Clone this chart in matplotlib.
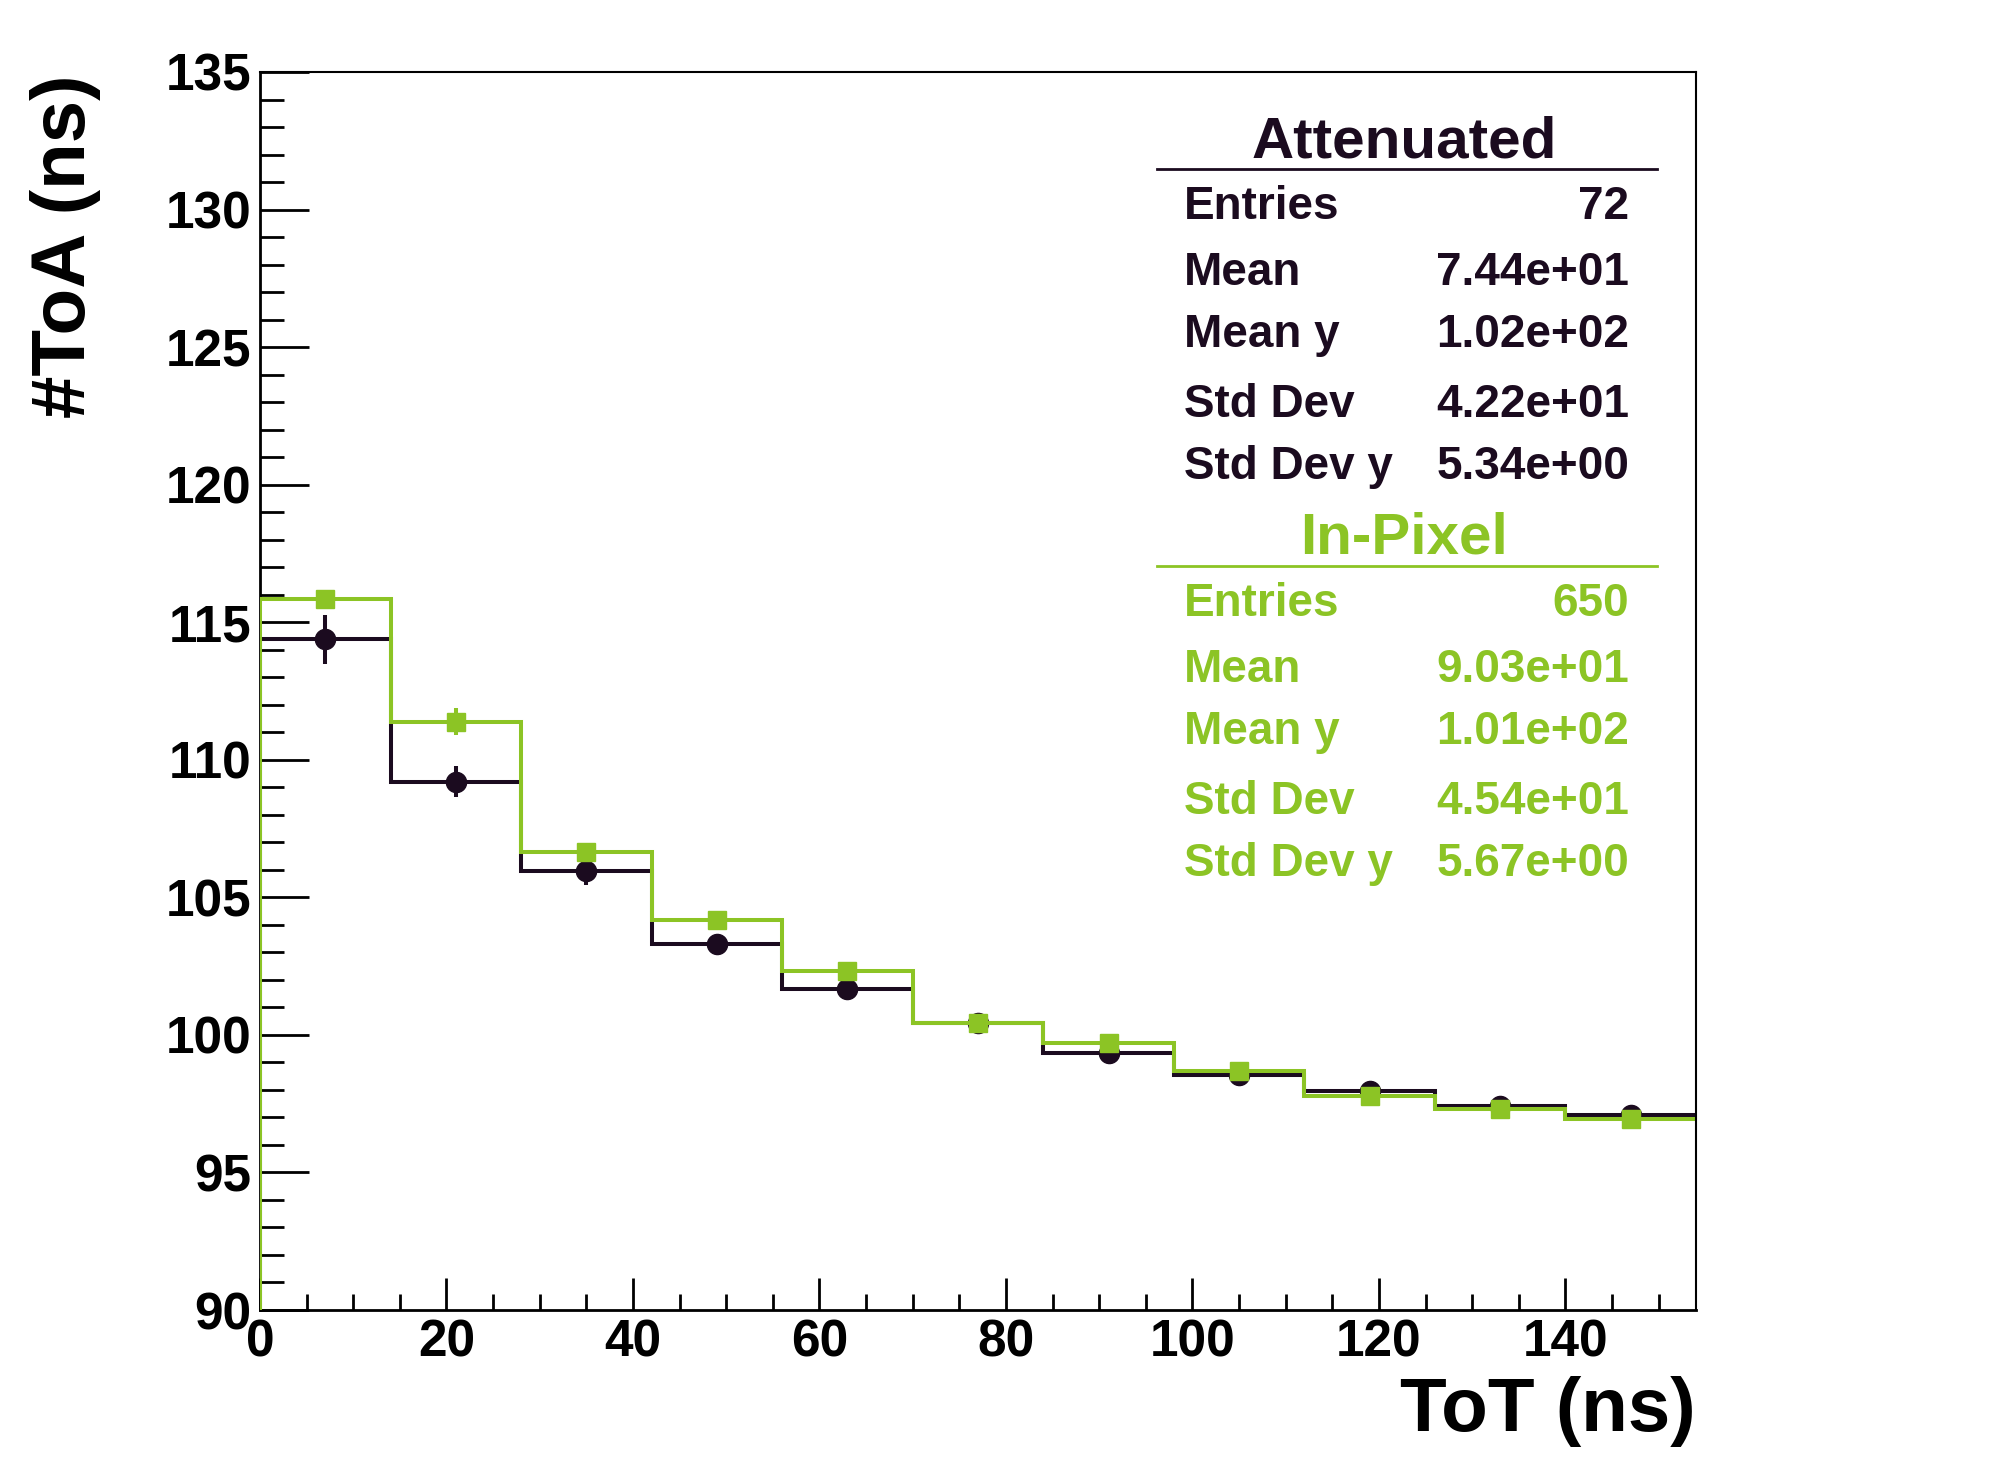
import numpy as np
import matplotlib
matplotlib.use('Agg')
import matplotlib.pyplot as plt

plt.rcParams['font.family'] = ['Liberation Sans', 'DejaVu Sans']
plt.rcParams['font.weight'] = 'bold'

# ToT bins (ns)
bin_edges = [0, 14, 28, 42, 56, 70, 84, 98, 112, 126, 140, 154]

# mean ToA per ToT bin
att_vals = [114.38, 109.20, 105.97, 103.29, 101.66, 100.45, 99.33, 98.54, 97.96, 97.41, 97.08]
att_errs = [0.90, 0.56, 0.52, 0.30, 0.22, 0.18, 0.16, 0.14, 0.12, 0.11, 0.10]
pix_vals = [115.85, 111.39, 106.65, 104.19, 102.31, 100.42, 99.70, 98.67, 97.78, 97.31, 96.95]
pix_errs = [0.28, 0.49, 0.26, 0.20, 0.16, 0.13, 0.11, 0.10, 0.09, 0.08, 0.08]

att_stats = [('Entries', '72'), ('Mean', '7.44e+01'), ('Mean y', '1.02e+02'),
             ('Std Dev', '4.22e+01'), ('Std Dev y', '5.34e+00')]
pix_stats = [('Entries', '650'), ('Mean', '9.03e+01'), ('Mean y', '1.01e+02'),
             ('Std Dev', '4.54e+01'), ('Std Dev y', '5.67e+00')]

c_att = '#1b0b1f'
c_pix = '#8cc425'

W, H = 1996, 1472
fig = plt.figure(figsize=(W / 100, H / 100), dpi=100)
ax = fig.add_axes([260 / W, 1 - 1310 / H, 1436 / W, 1238 / H])

edges = np.array(bin_edges)
centers = 0.5 * (edges[:-1] + edges[1:])
ymin = 90


def draw_hist(vals, errs, color, marker, ms, z):
    # step outline, rising from the axis floor at the first edge only
    ax.stairs(vals, edges, baseline=None, color=color, lw=2.9, zorder=z)
    ax.vlines(edges[0], ymin, vals[0], color=color, lw=2.9, zorder=z)
    ax.errorbar(centers, vals, yerr=errs, fmt=marker, ms=ms, color=color,
                elinewidth=2.9, capsize=0, zorder=z + 1)


draw_hist(att_vals, att_errs, c_att, 'o', 14.5, 2)
draw_hist(pix_vals, pix_errs, c_pix, 's', 13.5, 4)

ax.set_xlim(0, 154)
ax.set_ylim(ymin, 135)
ax.set_xticks(np.arange(0, 141, 20))
ax.set_xticks(np.arange(0, 155, 5), minor=True)
ax.set_yticks(np.arange(90, 136, 5))
ax.set_yticks(np.arange(90, 136, 1), minor=True)

ax.tick_params(axis='both', which='both', direction='in', top=False, right=False,
               width=2, colors='black', labelsize=37)
ax.tick_params(axis='y', which='major', length=35, pad=6)
ax.tick_params(axis='y', which='minor', length=17.5)
ax.tick_params(axis='x', which='major', length=23, pad=6)
ax.tick_params(axis='x', which='minor', length=11.5)
for lab in ax.get_xticklabels() + ax.get_yticklabels():
    lab.set_fontweight('bold')

for side in ['left', 'bottom']:
    ax.spines[side].set_linewidth(2)
for side in ['top', 'right']:
    ax.spines[side].set_linewidth(1.5)
ax.spines['right'].set_zorder(10)

ax.set_xlabel('ToT (ns)', fontsize=55, fontweight='bold')
ax.xaxis.label.set_horizontalalignment('right')
ax.xaxis.label.set_verticalalignment('baseline')
ax.xaxis.set_label_coords(1.0, (1310 - 1431) / 1238)

ax.set_ylabel('#ToA (ns)', fontsize=55, fontweight='bold')
ax.yaxis.label.set_rotation_mode('anchor')
ax.yaxis.label.set_horizontalalignment('right')
ax.yaxis.label.set_verticalalignment('baseline')
ax.yaxis.set_label_coords((85 - 260) / 1436, (1310 - 75) / 1238)


def stats_block(title, rows, color, y0):
    fig.text(1404 / W, 1 - y0 / H, title, color=color, fontsize=42,
             fontweight='bold', ha='center', va='baseline')
    fig.add_artist(plt.Line2D([1157 / W, 1657 / W], [1 - (y0 + 12) / H] * 2,
                              color=color, lw=2))
    offsets = [62, 128, 190, 260, 322]
    for (name, val), dy in zip(rows, offsets):
        fig.text(1184 / W, 1 - (y0 + dy) / H, name, color=color, fontsize=33,
                 fontweight='bold', ha='left', va='baseline')
        fig.text(1629 / W, 1 - (y0 + dy) / H, val, color=color, fontsize=33,
                 fontweight='bold', ha='right', va='baseline')


stats_block('Attenuated', att_stats, c_att, 157)
stats_block('In-Pixel', pix_stats, c_pix, 554)

fig.savefig('out.png', dpi=100)
